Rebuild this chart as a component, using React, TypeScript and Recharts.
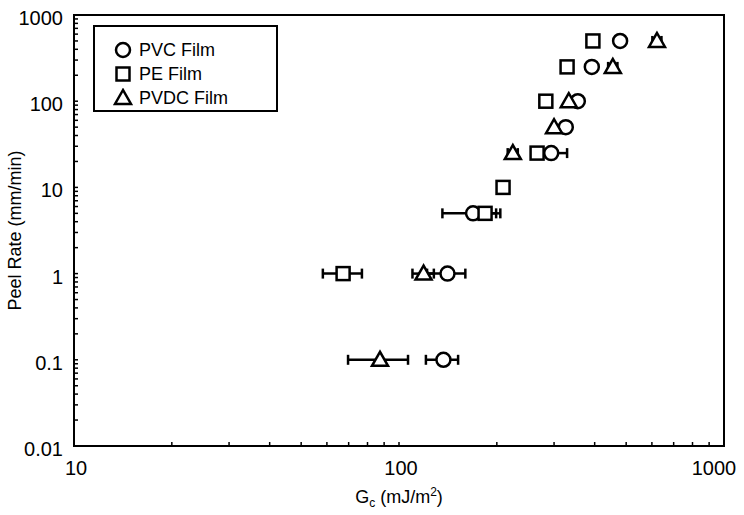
import { ErrorBar, ReferenceArea, Scatter, ScatterChart, XAxis, YAxis } from 'recharts';

// Peel rate (mm/min) vs Gc (mJ/m2)
const pvcGc = [479, 392, 355, 326, 294, 169, 141, 137];
const pvcRate = [500, 250, 100, 50, 25, 5, 1, 0.1];
const pvcErr = [[0, 0], [0, 0], [0, 0], [0, 0], [30, 35], [33, 30], [19, 19], [16, 15]];

const peGc = [395, 329, 283, 266, 209, 184, 67.3];
const peRate = [500, 250, 100, 25, 10, 5, 1];
const peErr = [[0, 0], [0, 0], [0, 0], [0, 0], [0, 0], [10, 21], [9, 9.6]];

const pvdcGc = [622, 455, 333, 300, 224, 119, 87.4];
const pvdcRate = [500, 250, 100, 50, 25, 1, 0.1];
const pvdcErr = [[20, 20], [15, 15], [0, 0], [0, 0], [8, 8], [9, 9], [17.7, 19.2]];

const xTicks = [10, 20, 30, 40, 50, 60, 70, 80, 90, 100, 200, 300, 400, 500, 600, 700, 800, 900, 1000];
const xLabels = ['10', '100', '1000'];
const yTicks = [
  0.01, 0.02, 0.03, 0.04, 0.05, 0.06, 0.07, 0.08, 0.09,
  0.1, 0.2, 0.3, 0.4, 0.5, 0.6, 0.7, 0.8, 0.9,
  1, 2, 3, 4, 5, 6, 7, 8, 9,
  10, 20, 30, 40, 50, 60, 70, 80, 90,
  100, 200, 300, 400, 500, 600, 700, 800, 900,
  1000,
];
const yLabels = ['0.01', '0.1', '1', '10', '100', '1000'];

const FONT = '"Liberation Sans", Arial, Helvetica, sans-serif';
const SW = 2.5;

const toRows = (xs: number[], ys: number[], errs: number[][]) =>
  xs.map((x, i) => ({ x, y: ys[i], err: errs[i] }));

const Circle = ({ cx, cy }: any) => (
  <circle cx={cx} cy={cy} r={7} fill="#fff" stroke="#000" strokeWidth={SW} />
);
const Square = ({ cx, cy }: any) => (
  <rect x={cx - 6.5} y={cy - 6.5} width={13} height={13} fill="#fff" stroke="#000" strokeWidth={SW} />
);
const Triangle = ({ cx, cy }: any) => (
  <polygon
    points={`${cx},${cy - 8} ${cx - 8},${cy + 6} ${cx + 8},${cy + 6}`}
    fill="#fff"
    stroke="#000"
    strokeWidth={SW}
  />
);

const series = [
  { name: 'PVC Film', rows: toRows(pvcGc, pvcRate, pvcErr), Shape: Circle },
  { name: 'PE Film', rows: toRows(peGc, peRate, peErr), Shape: Square },
  { name: 'PVDC Film', rows: toRows(pvdcGc, pvdcRate, pvdcErr), Shape: Triangle },
];

function XTick({ x, y, payload }: any) {
  const v = payload.value;
  const label = xLabels.find((l) => Number(l) === v);
  // the last label is pulled in so it stays on the page
  const lx = v === 1000 ? x - 10 : x + 2;
  return (
    <g>
      <line x1={x} y1={y} x2={x} y2={y - 4} stroke="#000" strokeWidth={1.5} />
      {label && (
        <text x={lx} y={y + 29} textAnchor="middle" fontFamily={FONT} fontSize={20} fill="#000">
          {label}
        </text>
      )}
    </g>
  );
}

function YTick({ x, y, payload }: any) {
  const v = payload.value;
  const label = yLabels.find((l) => Number(l) === v);
  return (
    <g>
      <line x1={x} y1={y} x2={x + 4} y2={y} stroke="#000" strokeWidth={1.5} />
      {label && (
        <text x={x - 11} y={y + 10} textAnchor="end" fontFamily={FONT} fontSize={20} fill="#000">
          {label}
        </text>
      )}
    </g>
  );
}

function XTitle({ viewBox }: any) {
  const cx = viewBox.x + viewBox.width / 2;
  return (
    <text x={cx} y={viewBox.y + 57} textAnchor="middle" fontFamily={FONT} fontSize={18} fill="#000">
      G<tspan fontSize={12} dy={4}>c</tspan>
      <tspan dy={-4}> (mJ/m</tspan>
      <tspan fontSize={12} dy={-7}>2</tspan>
      <tspan dy={7}>)</tspan>
    </text>
  );
}

function YTitle({ viewBox }: any) {
  const cy = viewBox.y + viewBox.height / 2;
  const x = 21;
  return (
    <text
      x={x}
      y={cy}
      transform={`rotate(-90 ${x} ${cy})`}
      textAnchor="middle"
      fontFamily={FONT}
      fontSize={18}
      fill="#000"
    >
      Peel Rate (mm/min)
    </text>
  );
}

function LegendBox() {
  return (
    <div
      style={{
        position: 'absolute',
        left: 93,
        top: 25,
        border: '2px solid #000',
        width: 185,
        height: 87,
        boxSizing: 'border-box',
        padding: '11px 0 0 18px',
        fontFamily: FONT,
        fontSize: 18,
        background: '#fff',
      }}
    >
      {series.map(({ name, Shape }) => (
        <div key={name} style={{ display: 'flex', alignItems: 'center', height: 24 }}>
          <svg width={20} height={20} style={{ marginRight: 6 }}>
            <Shape cx={10} cy={10} />
          </svg>
          <span>{name}</span>
        </div>
      ))}
    </div>
  );
}

export default function App() {
  return (
    <div style={{ position: 'absolute', left: 0, top: 0, width: 744, height: 515, background: '#fff' }}>
      <ScatterChart width={744} height={515} margin={{ top: 15, right: 20, bottom: 39, left: 0 }}>
        <XAxis
          type="number"
          dataKey="x"
          scale="log"
          domain={[10, 1000]}
          allowDataOverflow
          height={30}
          ticks={xTicks}
          interval={0}
          tick={<XTick />}
          tickLine={false}
          tickSize={0}
          tickMargin={0}
          axisLine={{ stroke: '#000', strokeWidth: 2 }}
          label={<XTitle />}
        />
        <YAxis
          type="number"
          dataKey="y"
          scale="log"
          domain={[0.01, 1000]}
          allowDataOverflow
          width={74}
          ticks={yTicks}
          interval={0}
          tick={<YTick />}
          tickLine={false}
          tickSize={0}
          tickMargin={0}
          axisLine={{ stroke: '#000', strokeWidth: 2 }}
          label={<YTitle />}
        />
        <ReferenceArea x1={10} x2={1000} y1={0.01} y2={1000} fill="none" stroke="#000" strokeWidth={2} />
        {series.map(({ name, rows, Shape }) => (
          <Scatter key={name} name={name} data={rows} shape={<Shape />} isAnimationActive={false}>
            <ErrorBar dataKey="err" direction="x" width={5} stroke="#000" strokeWidth={SW} />
          </Scatter>
        ))}
      </ScatterChart>
      <LegendBox />
    </div>
  );
}
